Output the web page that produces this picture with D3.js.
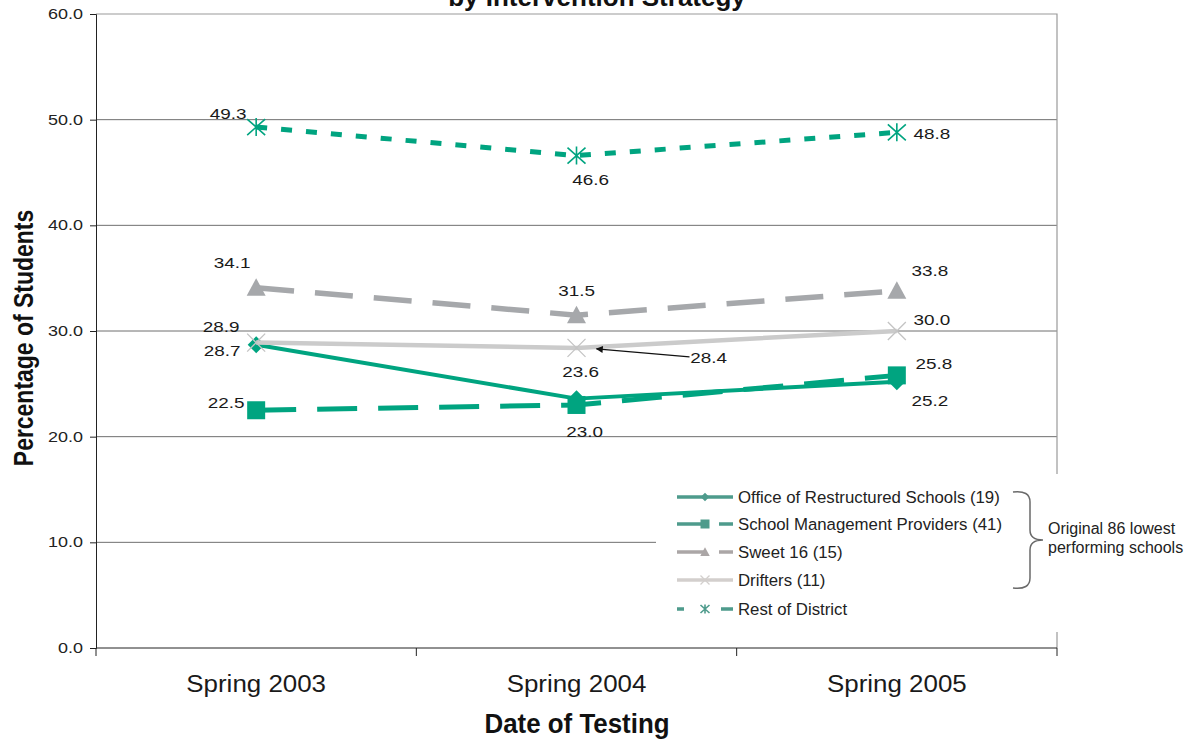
<!DOCTYPE html>
<html>
<head>
<meta charset="utf-8">
<script src="https://cdn.jsdelivr.net/npm/d3@7"></script>
<style>
  html, body { margin: 0; padding: 0; background: #fff; }
  svg { display: block; font-family: "Liberation Sans", Arial, sans-serif; }
</style>
</head>
<body>
<svg id="chart" width="1204" height="740"></svg>
<script>
// ---- data ----
const categories = ["Spring 2003", "Spring 2004", "Spring 2005"];
const officeRestructured = [28.7, 23.6, 25.2];
const schoolMgmtProviders = [22.5, 23.0, 25.8];
const sweet16 = [34.1, 31.5, 33.8];
const drifters = [28.9, 28.4, 30.0];
const restOfDistrict = [49.3, 46.6, 48.8];
const yTicks = [0, 10, 20, 30, 40, 50, 60];
const seriesNames = [
  "Office of Restructured Schools (19)",
  "School Management Providers (41)",
  "Sweet 16 (15)",
  "Drifters (11)",
  "Rest of District"
];

// ---- styling per series ----
const TEAL = "#00a480";
const styles = [
  { values: officeRestructured, color: TEAL, legendColor: "#4e9b8c", width: 4, dash: null, legendDash: null, marker: "diamond" },
  { values: schoolMgmtProviders, color: TEAL, legendColor: "#4e9b8c", width: 5, dash: "40,21", legendDash: "27,15,14", marker: "square" },
  { values: sweet16, color: "#a6a8ab", legendColor: "#aba6a6", width: 5.5, dash: "38,21", legendDash: "27,15,14", marker: "triangle" },
  { values: drifters, color: "#cbcbcb", legendColor: "#d3cfcd", width: 4.5, dash: null, legendDash: null, marker: "x" },
  { values: restOfDistrict, color: TEAL, legendColor: "#4e9b8c", width: 5, dash: "11,14", legendDash: "7,37,14", marker: "asterisk" }
];

// value-label placement relative to each point (dx, baseline dy)
const labelOffsets = [
  [[-34, 11], [4, -22], [33, 24]],
  [[-30, -2], [8, 32], [37, -6]],
  [[-24, -20], [0, -19], [33, -15]],
  [[-35, -11], null, [35, -6]],
  [[-28, -8], [14, 29], [35, 7]]
];

// ---- layout ----
const svg = d3.select("#chart");
const plot = { left: 96, right: 1057, top: 14, bottom: 648 };

const x = d3.scaleBand().domain(categories).range([plot.left, plot.right]);
const xc = c => x(c) + x.bandwidth() / 2;
const y = d3.scaleLinear().domain([0, 60]).range([plot.bottom, plot.top]);

// helper for text with horizontal scaling
function sText(parent, px, py, str, opts) {
  const g = parent.append("g").attr("transform", `translate(${px},${py})${opts.rotate ? ` rotate(${opts.rotate})` : ""}`);
  return g.append("text")
    .attr("transform", `scale(${opts.sx || 1},1)`)
    .attr("text-anchor", opts.anchor || "middle")
    .attr("font-size", opts.size)
    .attr("font-weight", opts.weight || "normal")
    .attr("fill", opts.fill || "#1a1a1a")
    .text(str);
}

// title (second line, partly off the top edge)
sText(svg, 597, 6, "by Intervention Strategy", { size: 26, weight: "bold", fill: "#111" });

// gridlines
svg.append("g").selectAll("line").data(yTicks.filter(t => t > 0 && t < 60)).join("line")
  .attr("x1", plot.left).attr("x2", plot.right)
  .attr("y1", d => y(d)).attr("y2", d => y(d))
  .attr("stroke", "#6f6f6f").attr("stroke-width", 1);

// plot frame (top and right)
svg.append("path")
  .attr("d", `M${plot.left},${y(60)}H${plot.right}V${plot.bottom}`)
  .attr("fill", "none").attr("stroke", "#9a9a9a").attr("stroke-width", 1.2);

// y axis
const yAxis = svg.append("g").attr("transform", `translate(${plot.left},0)`)
  .call(d3.axisLeft(y).tickValues(yTicks).tickSize(6).tickFormat(() => ""));
yAxis.select(".domain").attr("stroke", "#222");
yAxis.selectAll(".tick line").attr("stroke", "#222");
yTicks.forEach(t => {
  sText(svg, 83, y(t) + 5, d3.format(".1f")(t), { size: 14.5, sx: 1.24, anchor: "end", fill: "#222" });
});

// x axis
const xAxis = svg.append("g").attr("transform", `translate(0,${plot.bottom})`)
  .call(d3.axisBottom(x).tickSize(0).tickFormat(() => ""));
xAxis.select(".domain").attr("stroke", "#222").attr("d", `M${plot.left},0H${plot.right}`);
const xEdges = [plot.left, ...categories.map(c => x(c) + x.bandwidth())];
svg.append("g").selectAll("line").data(xEdges).join("line")
  .attr("x1", d => d).attr("x2", d => d)
  .attr("y1", plot.bottom).attr("y2", plot.bottom + 8)
  .attr("stroke", "#222");
categories.forEach(c => {
  sText(svg, xc(c), 692, c, { size: 24, sx: 1.08, fill: "#1a1a1a" });
});

// axis titles
sText(svg, 577, 733, "Date of Testing", { size: 28, weight: "bold", sx: 0.925, fill: "#111" });
sText(svg, 33, 338, "Percentage of Students", { size: 28, weight: "bold", sx: 0.82, rotate: -90, fill: "#111" });

// markers
function drawMarker(g, type, cx, cy, color, s) {
  const k = s || 1;
  if (type === "diamond") {
    g.append("path").attr("d", `M${cx},${cy - 8.5 * k}L${cx + 8.5 * k},${cy}L${cx},${cy + 8.5 * k}L${cx - 8.5 * k},${cy}Z`).attr("fill", color);
  } else if (type === "square") {
    g.append("rect").attr("x", cx - 9 * k).attr("y", cy - 9 * k).attr("width", 18 * k).attr("height", 18 * k).attr("fill", color);
  } else if (type === "triangle") {
    g.append("path").attr("d", `M${cx},${cy - 9.5 * k}L${cx + 9.5 * k},${cy + 8 * k}L${cx - 9.5 * k},${cy + 8 * k}Z`).attr("fill", color);
  } else if (type === "x") {
    g.append("path").attr("d", `M${cx - 9 * k},${cy - 9 * k}L${cx + 9 * k},${cy + 9 * k}M${cx - 9 * k},${cy + 9 * k}L${cx + 9 * k},${cy - 9 * k}`)
      .attr("stroke", color).attr("stroke-width", 1.3).attr("fill", "none");
  } else if (type === "asterisk") {
    g.append("path").attr("d", `M${cx - 9 * k},${cy - 8 * k}L${cx + 9 * k},${cy + 8 * k}M${cx - 9 * k},${cy + 8 * k}L${cx + 9 * k},${cy - 8 * k}M${cx},${cy - 9 * k}L${cx},${cy + 9 * k}`)
      .attr("stroke", color).attr("stroke-width", 1.6).attr("fill", "none");
  }
}

// series lines and markers
const line = d3.line().x((d, i) => xc(categories[i])).y(d => y(d));
const seriesG = svg.append("g");
styles.forEach(s => {
  const g = seriesG.append("g");
  g.append("path").datum(s.values).attr("d", line)
    .attr("fill", "none").attr("stroke", s.color).attr("stroke-width", s.width)
    .attr("stroke-dasharray", s.dash).attr("stroke-linejoin", "round");
  s.values.forEach((v, i) => {
    const mColor = s.marker === "x" ? "#c4c4c4" : s.color;
    drawMarker(g, s.marker, xc(categories[i]), y(v), mColor);
  });
});

// value labels
const labelsG = svg.append("g");
styles.forEach((s, si) => {
  s.values.forEach((v, i) => {
    const off = labelOffsets[si][i];
    if (!off) return;
    sText(labelsG, xc(categories[i]) + off[0], y(v) + off[1], d3.format(".1f")(v), { size: 15.5, sx: 1.22, fill: "#1a1a1a" });
  });
});

// call-out label for the Drifters 2004 point
const drift04 = { px: xc(categories[1]), py: y(drifters[1]) };
const defs = svg.append("defs");
defs.append("marker").attr("id", "arrowhead").attr("viewBox", "0 0 10 10")
  .attr("refX", 9).attr("refY", 5).attr("markerWidth", 10).attr("markerHeight", 7)
  .attr("markerUnits", "userSpaceOnUse").attr("orient", "auto")
  .append("path").attr("d", "M0,0L10,5L0,10Z").attr("fill", "#111");
labelsG.append("line")
  .attr("x1", drift04.px + 113).attr("y1", drift04.py + 9)
  .attr("x2", drift04.px + 20).attr("y2", drift04.py + 1)
  .attr("stroke", "#111").attr("stroke-width", 1.2).attr("marker-end", "url(#arrowhead)");
sText(labelsG, drift04.px + 132, drift04.py + 15, d3.format(".1f")(drifters[1]), { size: 15.5, sx: 1.22, fill: "#1a1a1a" });

// legend
const legend = svg.append("g");
legend.append("rect").attr("x", 656).attr("y", 474).attr("width", 548).attr("height", 158).attr("fill", "#fff");
const rowY = [497, 524, 552, 580, 609];
styles.forEach((s, i) => {
  const ly = rowY[i];
  legend.append("line").attr("x1", 677).attr("x2", 733).attr("y1", ly).attr("y2", ly)
    .attr("stroke", s.legendColor).attr("stroke-width", 3.5)
    .attr("stroke-dasharray", s.legendDash);
  drawMarker(legend, s.marker, 705, ly, s.legendColor, 0.5);
  legend.append("text").attr("x", 738).attr("y", ly + 6)
    .attr("font-size", 16.8).attr("fill", "#222").text(seriesNames[i]);
});

// brace grouping the first four series
legend.append("path")
  .attr("d", "M1013,492 Q1030,490 1030,502 L1030,530 Q1030,540 1043,540 Q1030,540 1030,550 L1030,578 Q1030,590 1013,588")
  .attr("fill", "none").attr("stroke", "#6a6a6a").attr("stroke-width", 1.5);
legend.append("text").attr("x", 1048).attr("y", 534).attr("font-size", 16).attr("fill", "#222").text("Original 86 lowest");
legend.append("text").attr("x", 1048).attr("y", 553).attr("font-size", 16).attr("fill", "#222").text("performing schools");
</script>
</body>
</html>
